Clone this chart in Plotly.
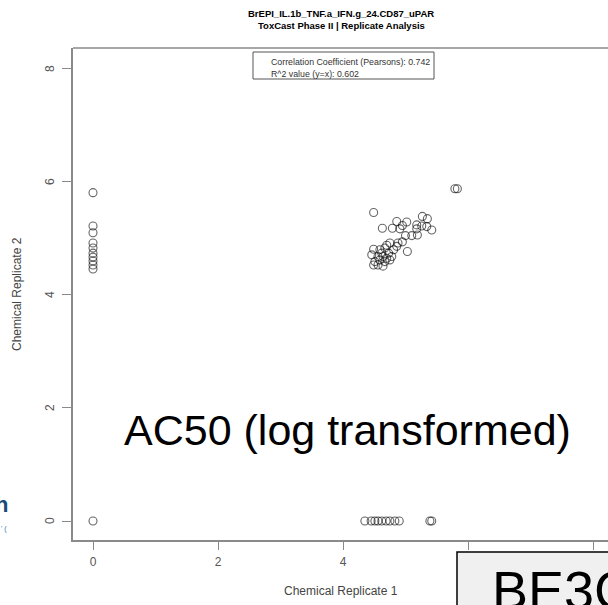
import plotly.graph_objects as go

# ---- data (AC50, log transformed) ----
rep1_left = [0, 0, 0, 0, 0, 0, 0, 0, 0, 0]
rep2_left = [5.81, 5.22, 5.10, 4.92, 4.83, 4.74, 4.67, 4.60, 4.53, 4.46]

rep1_zero = [0, 4.35, 4.45, 4.51, 4.56, 4.62, 4.69, 4.75, 4.83, 4.90, 5.39, 5.42]
rep2_zero = [0, 0, 0, 0, 0, 0, 0, 0, 0, 0, 0, 0]

rep1_cluster = [5.79, 5.83, 4.49, 5.27, 5.35, 4.86, 5.02, 4.95, 4.63, 4.79, 5.18, 5.26,
                5.34, 5.42, 5.18, 4.91, 5.00, 5.10, 5.19, 4.95, 4.88, 4.75, 5.03, 4.49,
                4.70, 4.59, 4.67, 4.62, 4.73, 4.56, 4.64, 4.70, 4.59, 4.67, 4.51, 4.56,
                4.49, 4.64, 4.75, 4.46, 4.78, 4.81, 4.86]
rep2_cluster = [5.88, 5.88, 5.46, 5.39, 5.35, 5.30, 5.29, 5.23, 5.18, 5.18, 5.24, 5.22,
                5.21, 5.15, 5.17, 5.17, 5.05, 5.05, 5.06, 4.94, 4.92, 4.92, 4.77, 4.81,
                4.88, 4.80, 4.83, 4.74, 4.74, 4.68, 4.68, 4.65, 4.62, 4.59, 4.59, 4.53,
                4.53, 4.51, 4.62, 4.71, 4.68, 4.80, 4.86]

x_ticks = [0, 2, 4, 6, 8]
y_ticks = [0, 2, 4, 6, 8]

title_lines = ["BrEPI_IL.1b_TNF.a_IFN.g_24.CD87_uPAR", "ToxCast Phase II | Replicate Analysis"]
legend_lines = ["Correlation Coefficient (Pearsons): 0.742", "R^2 value (y=x): 0.602"]

W, H = 608, 605
L, R, T, B = 73, 0, 48, 65
PW, PH = W - L - R, H - T - B

def px(x):
    return (x - L) / PW

def py(y):
    return (H - B - y) / PH

FONT = "Liberation Sans, Arial, sans-serif"
AX = "#8a8a8a"

xs = rep1_left + rep1_zero + rep1_cluster
ys = rep2_left + rep2_zero + rep2_cluster

fig = go.Figure()
fig.add_trace(go.Scatter(
    x=xs, y=ys, mode="markers",
    marker=dict(symbol="circle-open", size=8, color="rgba(0,0,0,0.6)",
                line=dict(width=1.1, color="rgba(0,0,0,0.6)")),
    showlegend=False, hoverinfo="skip"))

fig.update_layout(
    width=W, height=H,
    margin=dict(l=L, r=R, t=T, b=B),
    paper_bgcolor="white", plot_bgcolor="white",
    font=dict(family=FONT, color="#555555", size=11),
    xaxis=dict(range=[-0.32, 8.24], tickvals=x_ticks, showgrid=False, zeroline=False,
               showline=True, linecolor=AX, linewidth=1.5, ticks="outside", ticklen=8,
               tickcolor=AX, tickwidth=1, ticklabelstandoff=2,
               tickfont=dict(size=12, color="#555555")),
    yaxis=dict(range=[-0.336, 8.37], tickvals=y_ticks, showgrid=False, zeroline=False,
               showline=True, linecolor=AX, linewidth=1.5, ticks="outside", ticklen=9,
               tickcolor=AX, tickwidth=1, showticklabels=False),
)

shapes = []
# top border of plot box
shapes.append(dict(type="line", xref="paper", yref="paper", x0=0, x1=1, y0=1, y1=1,
                   line=dict(color=AX, width=1.5)))
# legend box
shapes.append(dict(type="rect", xref="paper", yref="paper", x0=px(253), x1=px(434),
                   y0=py(79), y1=py(52), fillcolor="white", line=dict(color="#555555", width=1)))
# BE3C box
shapes.append(dict(type="rect", xref="paper", yref="paper", x0=px(457), x1=px(640),
                   y0=py(640), y1=py(552), fillcolor="#f0f0f0", line=dict(color="black", width=1.5)))
fig.update_layout(shapes=shapes)


def txt(text, x, y, size, color, xanchor="center", angle=0):
    return dict(text=text, x=px(x), y=py(y), xref="paper", yref="paper",
                xanchor=xanchor, yanchor="middle", showarrow=False, textangle=angle,
                font=dict(size=size, color=color, family=FONT))


ann = [
    txt("<b>%s</b>" % title_lines[0], 341, 13, 9.5, "black"),
    txt("<b>%s</b>" % title_lines[1], 341, 25, 9.5, "black"),
    txt(legend_lines[0], 269, 62.5, 8.8, "#333333", xanchor="left"),
    txt(legend_lines[1], 269, 73.5, 8.8, "#333333", xanchor="left"),
    txt("Chemical Replicate 1", 341, 591, 12, "#444444"),
    txt("Chemical Replicate 2", 17, 294, 12, "#444444", angle=-90),
    txt("AC50 (log transformed)", 348, 430, 43, "black"),
    txt("<b>h</b>", 10, 504, 22, "#1a4a7a", xanchor="right"),
    txt("' (", 9, 529, 7, "#2e75b6", xanchor="right"),
    txt("BE3C", 490, 590, 54, "black", xanchor="left"),
]
# y tick labels (rotated, R style), placed on the y axis scale
for v in y_ticks:
    ann.append(dict(text=str(v), x=px(50), y=v, xref="paper", yref="y",
                    xanchor="center", yanchor="middle", showarrow=False, textangle=-90,
                    font=dict(size=12, color="#555555", family=FONT)))
fig.update_layout(annotations=ann)

fig.write_html("out.html")
